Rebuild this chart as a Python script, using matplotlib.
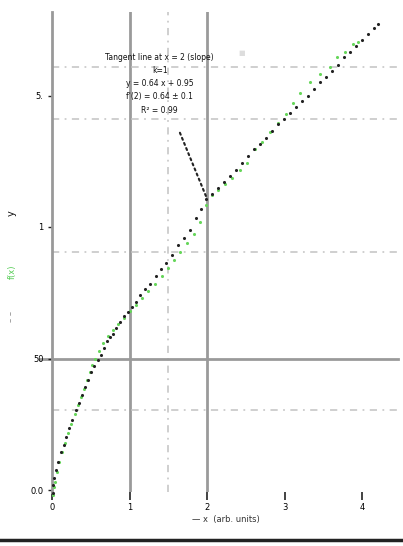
import matplotlib
matplotlib.use("Agg")
import matplotlib.pyplot as plt
from matplotlib.lines import Line2D

# ---- data ----
black_x = [0.01, 0.01, 0.03, 0.05, 0.08, 0.12, 0.15, 0.18, 0.22, 0.26, 0.31, 0.35, 0.39, 0.43, 0.46, 0.50,
           0.54, 0.59, 0.63, 0.67, 0.71, 0.75, 0.79, 0.83, 0.88, 0.93, 0.98, 1.03, 1.08, 1.14, 1.20,
           1.26, 1.34, 1.41, 1.47, 1.55, 1.63, 1.70, 1.78, 1.86, 1.92, 1.99, 2.06, 2.14, 2.22, 2.30,
           2.37, 2.45, 2.53, 2.61, 2.68, 2.76, 2.84, 2.92, 2.99, 3.07, 3.15, 3.23, 3.30, 3.38, 3.46,
           3.54, 3.61, 3.69, 3.77, 3.85, 3.92, 4.00, 4.08, 4.15, 4.21]
black_y = [-0.02, 0.04, 0.09, 0.15, 0.21, 0.29, 0.34, 0.40, 0.47, 0.53, 0.61, 0.66, 0.72, 0.78, 0.84,
           0.90, 0.94, 0.99, 1.03, 1.08, 1.13, 1.16, 1.19, 1.23, 1.28, 1.32, 1.35, 1.39, 1.43, 1.48,
           1.53, 1.57, 1.63, 1.68, 1.73, 1.79, 1.86, 1.92, 1.98, 2.07, 2.14, 2.21, 2.25, 2.30, 2.34,
           2.39, 2.43, 2.49, 2.54, 2.59, 2.63, 2.68, 2.73, 2.78, 2.82, 2.87, 2.91, 2.96, 3.00, 3.05,
           3.10, 3.14, 3.19, 3.23, 3.29, 3.33, 3.38, 3.42, 3.47, 3.51, 3.54]
green_x = [0.01, 0.03, 0.04, 0.06, 0.09, 0.13, 0.17, 0.21, 0.25, 0.30, 0.34, 0.37, 0.41, 0.45, 0.49,
           0.52, 0.55, 0.61, 0.66, 0.72, 0.79, 0.85, 0.93, 1.01, 1.08, 1.16, 1.24, 1.33, 1.42, 1.50,
           1.57, 1.65, 1.74, 1.83, 1.91, 1.99, 2.06, 2.14, 2.23, 2.32, 2.43, 2.52, 2.62, 2.71, 2.81,
           2.92, 3.02, 3.11, 3.20, 3.33, 3.46, 3.59, 3.68, 3.78, 3.88, 3.95]
green_y = [-0.04, 0.02, 0.06, 0.14, 0.21, 0.29, 0.36, 0.43, 0.50, 0.58, 0.65, 0.71, 0.77, 0.84, 0.90,
           0.95, 1.00, 1.06, 1.12, 1.17, 1.22, 1.26, 1.31, 1.36, 1.41, 1.46, 1.51, 1.57, 1.63, 1.69,
           1.75, 1.81, 1.88, 1.95, 2.04, 2.17, 2.24, 2.28, 2.33, 2.37, 2.43, 2.49, 2.59, 2.65, 2.72,
           2.79, 2.86, 2.94, 3.02, 3.10, 3.16, 3.22, 3.29, 3.33, 3.39, 3.41]

x_ticks = [0, 1, 2, 3, 4]
x_tick_labels = ["0", "1", "2", "3", "4"]
y_ticks = [0, 1, 2, 3]
y_tick_labels = ["0.0", "50", "1", "5."]
solid_vlines = [1.0, 2.0]
dashed_vlines = [1.5]
solid_hlines = [1.0]
dotted_hlines = [0.61, 1.81, 2.82, 3.22]
annot_point = (1.99, 2.23)
annot_text_pos = (1.39, 3.09)
annot_lines = ["Tangent line at x = 2 (slope)", "k=1", "y = 0.64 x + 0.95", "f'(2) = 0.64 ± 0.1", "R² = 0.99"]

fig = plt.figure(figsize=(4.03, 5.46), dpi=100)
ax = fig.add_axes([52/403, 54/546, 348/403, 480/546])
ax.set_xlim(0, 348/77.5)
ax.set_ylim(-2/131.5, 478/131.5)

for s in ["top", "right", "bottom"]:
    ax.spines[s].set_visible(False)
ax.spines["left"].set_color("#999999")
ax.spines["left"].set_linewidth(2)

for xv in solid_vlines:
    ax.axvline(xv, color="#9a9a9a", lw=2, zorder=1)
for xv in dashed_vlines:
    ax.axvline(xv, color="#cccccc", lw=1.3, ls=(0, (4, 3, 1, 3)), zorder=1)
for yv in solid_hlines:
    ax.axhline(yv, xmin=-0.035, xmax=0.995, color="#9a9a9a", lw=2, zorder=1, clip_on=False)
for yv in dotted_hlines:
    ax.axhline(yv, color="#cccccc", lw=1.3, ls=(0, (4, 3, 1, 3)), zorder=1)

ax.scatter(green_x, green_y, s=5, color="#66d65a", zorder=3, linewidths=0, clip_on=False)
ax.scatter(black_x, black_y, s=5, color="#222222", zorder=4, linewidths=0, clip_on=False)

ax.set_xticks(x_ticks)
ax.set_xticklabels(x_tick_labels, fontsize=6)
ax.set_yticks(y_ticks)
ax.set_yticklabels(y_tick_labels, fontsize=6)
ax.tick_params(axis="y", length=3, width=1, color="#222222", pad=3)
ax.tick_params(axis="x", length=6, width=1.2, color="#222222", pad=2)

ax.annotate("\n".join(annot_lines), xy=annot_point, xytext=annot_text_pos,
            ha="center", va="center", fontsize=5.5, linespacing=1.6, color="#111111",
            arrowprops=dict(arrowstyle="-", ls=":", lw=1.5, color="#222222", shrinkA=12, shrinkB=0))
ax.text(2.45, 3.32, "■", fontsize=5, color="#dddddd", ha="center", va="center")

ax.set_xlabel("— x  (arb. units)", fontsize=6, color="#333333", labelpad=2)
fig.text(12/403, 1 - 213/546, "y", rotation=90, fontsize=7, color="#111111", ha="center", va="center")
fig.text(12/403, 1 - 272/546, "f(x)", rotation=90, fontsize=6, color="#55cc55", ha="center", va="center")
fig.text(12/403, 1 - 316/546, "– –", rotation=90, fontsize=6, color="#888888", ha="center", va="center")

fig.add_artist(Line2D([0, 1], [6/546, 6/546], transform=fig.transFigure, color="#222222", lw=2.5))

fig.savefig("out.png", dpi=100)
